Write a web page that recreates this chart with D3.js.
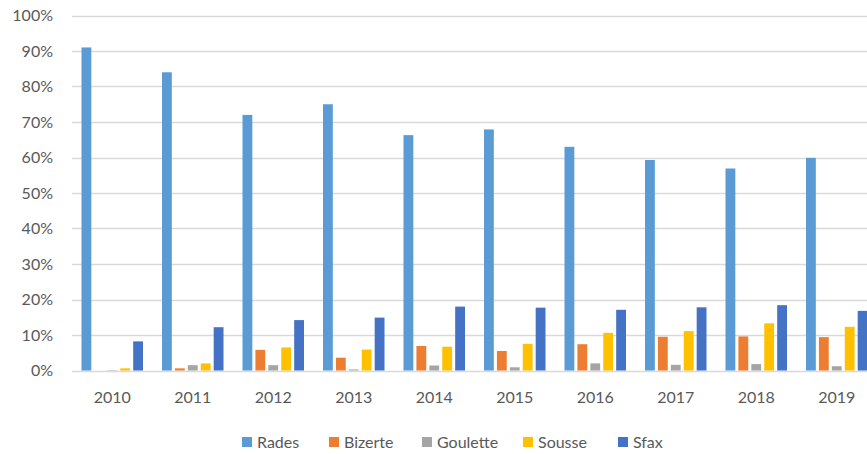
<!DOCTYPE html>
<html>
<head>
<meta charset="utf-8">
<script src="https://cdn.jsdelivr.net/npm/d3@7"></script>
<style>
  body { margin: 0; background: #fff; }
  svg { display: block; font-family: Lato, "Open Sans", sans-serif; }
</style>
</head>
<body>
<div id="chart"></div>
<script>
// Data (share of traffic per port)
const years = ["2010", "2011", "2012", "2013", "2014", "2015", "2016", "2017", "2018", "2019"];
const ports = ["Rades", "Bizerte", "Goulette", "Sousse", "Sfax"];
const rades    = [0.91, 0.84, 0.72, 0.75, 0.663, 0.679, 0.63, 0.593, 0.569, 0.599];
const bizerte  = [0.0, 0.006, 0.058, 0.036, 0.069, 0.055, 0.074, 0.095, 0.096, 0.094];
const goulette = [0.001, 0.015, 0.015, 0.003, 0.014, 0.009, 0.02, 0.016, 0.018, 0.012];
const sousse   = [0.006, 0.02, 0.065, 0.059, 0.067, 0.075, 0.106, 0.111, 0.133, 0.123];
const sfax     = [0.082, 0.122, 0.142, 0.149, 0.18, 0.177, 0.171, 0.178, 0.184, 0.168];
const yTicks = [0, 0.1, 0.2, 0.3, 0.4, 0.5, 0.6, 0.7, 0.8, 0.9, 1.0];
const colors = ["#5B9BD5", "#ED7D31", "#A5A5A5", "#FFC000", "#4472C4"];

const series = [rades, bizerte, goulette, sousse, sfax];
const data = years.map((y, i) => ({
  year: y,
  values: ports.map((p, j) => ({ port: p, value: series[j][i] }))
}));

const width = 867, height = 454;
const svg = d3.select("#chart").append("svg")
  .attr("width", width)
  .attr("height", height);

// plot area is wider than the picture: the last group is cut at the right edge
const x0 = d3.scaleBand()
  .domain(years)
  .range([72, 877])
  .padding(0);

const x1 = d3.scaleBand()
  .domain(ports)
  .range([9.5, 71])
  .paddingInner(0.24);

const y = d3.scaleLinear()
  .domain([0, 1])
  .range([370.5, 15.5]);

const color = d3.scaleOrdinal().domain(ports).range(colors);

// gridlines
svg.append("g")
  .selectAll("line")
  .data(yTicks)
  .join("line")
  .attr("x1", 72)
  .attr("x2", width)
  .attr("y1", d => Math.round(y(d)) + 0.5)
  .attr("y2", d => Math.round(y(d)) + 0.5)
  .attr("stroke", "#D9D9D9")
  .attr("stroke-width", 1.3);

// y axis labels
svg.append("g")
  .selectAll("text")
  .data(yTicks)
  .join("text")
  .attr("x", 53)
  .attr("y", d => y(d))
  .attr("dy", "0.36em")
  .attr("text-anchor", "end")
  .attr("fill", "#595959")
  .style("font-size", "16px")
  .text(d => d3.format(".0%")(d));

// bars
const groups = svg.append("g")
  .selectAll("g")
  .data(data)
  .join("g")
  .attr("transform", d => `translate(${x0(d.year)},0)`);

groups.selectAll("rect")
  .data(d => d.values)
  .join("rect")
  .attr("x", d => x1(d.port))
  .attr("y", d => y(d.value))
  .attr("width", x1.bandwidth())
  .attr("height", d => y(0) - y(d.value))
  .attr("fill", d => color(d.port));

// x axis labels
svg.append("g")
  .selectAll("text")
  .data(years)
  .join("text")
  .attr("x", d => x0(d) + x0.bandwidth() / 2)
  .attr("y", 403)
  .attr("text-anchor", "middle")
  .attr("fill", "#595959")
  .style("font-size", "16px")
  .text(d => d);

// legend
const legendX = [242, 329, 422, 523, 618];
const legend = svg.append("g")
  .selectAll("g")
  .data(ports)
  .join("g")
  .attr("transform", (d, i) => `translate(${legendX[i]},437)`);

legend.append("rect")
  .attr("width", 10)
  .attr("height", 10)
  .attr("fill", d => color(d));

legend.append("text")
  .attr("x", 15)
  .attr("y", 5)
  .attr("dy", "0.36em")
  .attr("fill", "#595959")
  .style("font-size", "16px")
  .text(d => d);
</script>
</body>
</html>
